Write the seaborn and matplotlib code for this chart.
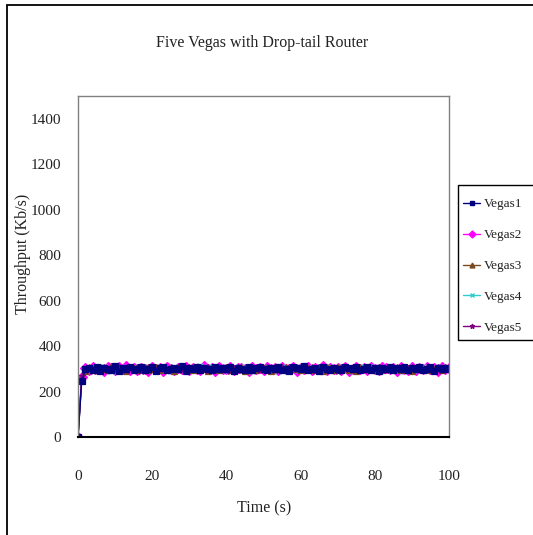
import matplotlib
matplotlib.use("Agg")
import matplotlib.pyplot as plt
from matplotlib.patches import Rectangle
import numpy as np
import pandas as pd
import seaborn as sns

# Throughput samples (Kb/s), one per second from t = 0 to t = 100
time_s = list(range(0, 101))

vegas1 = [0, 245, 298, 305, 296, 310, 292, 303, 300, 296,
          312, 290, 304, 299, 307, 293, 301, 310, 295, 298,
          306, 291, 303, 309, 294, 300, 305, 297, 311, 292,
          302, 298, 307, 295, 304, 300, 293, 309, 297, 303,
          299, 306, 291, 305, 300, 296, 310, 294, 302, 307,
          298, 293, 305, 301, 309, 296, 300, 292, 306, 303,
          297, 311, 295, 299, 304, 290, 308, 301, 296, 305,
          299, 293, 310, 302, 297, 306, 294, 300, 308, 296,
          303, 291, 305, 299, 309, 295, 302, 297, 306, 293,
          304, 300, 310, 296, 301, 307, 292, 303, 298, 305,
          300]
vegas2 = [0, 262, 304, 294, 308, 297, 301, 291, 309, 303,
          295, 306, 299, 311, 293, 302, 296, 305, 300, 292,
          307, 298, 304, 290, 310, 301, 295, 303, 297, 308,
          294, 305, 300, 296, 311, 299, 303, 292, 306, 301,
          297, 309, 293, 302, 305, 298, 291, 307, 300, 304,
          296, 310, 299, 303, 294, 306, 301, 297, 309, 292,
          304, 300, 307, 295, 302, 298, 311, 293, 305, 299,
          303, 296, 308, 291, 301, 306, 297, 304, 294, 310,
          300, 295, 307, 302, 298, 305, 292, 309, 301, 296,
          306, 293, 303, 299, 310, 297, 304, 291, 308, 300,
          302]
vegas3 = [0, 255, 292, 309, 301, 295, 306, 299, 293, 311,
          300, 297, 305, 291, 308, 303, 296, 302, 309, 294,
          299, 306, 293, 304, 297, 310, 292, 301, 305, 298,
          310, 293, 302, 306, 298, 291, 307, 300, 295, 304,
          308, 294, 301, 297, 306, 292, 303, 310, 296, 299,
          305, 300, 291, 308, 297, 302, 310, 294, 299, 306,
          293, 301, 304, 309, 296, 300, 292, 307, 303, 295,
          310, 298, 302, 295, 305, 291, 309, 297, 301, 304,
          296, 308, 293, 301, 305, 299, 310, 294, 303, 298,
          292, 306, 301, 304, 295, 309, 298, 302, 296, 307,
          299]
vegas4 = [0, 248, 301, 296, 304, 293, 309, 306, 297, 290,
          305, 301, 293, 308, 298, 310, 304, 294, 302, 307,
          296, 303, 309, 298, 301, 292, 306, 304, 294, 300,
          305, 297, 295, 311, 301, 307, 296, 304, 299, 293,
          306, 300, 309, 295, 303, 307, 298, 292, 305, 301,
          309, 296, 304, 298, 292, 306, 300, 303, 295, 310,
          299, 294, 302, 297, 307, 303, 296, 305, 310, 298,
          295, 306, 299, 304, 292, 300, 308, 303, 297, 301,
          307, 302, 296, 310, 294, 303, 298, 305, 291, 308,
          299, 304, 295, 307, 302, 293, 306, 300, 309, 297,
          303]
vegas5 = [0, 270, 296, 302, 291, 306, 298, 309, 295, 304,
          293, 309, 301, 296, 303, 299, 307, 292, 305, 310,
          302, 295, 298, 307, 293, 305, 300, 309, 296, 303,
          297, 309, 304, 299, 293, 306, 301, 297, 310, 296,
          302, 291, 305, 308, 294, 303, 299, 306, 297, 295,
          301, 307, 297, 293, 305, 310, 296, 308, 302, 299,
          309, 305, 298, 303, 292, 307, 300, 296, 301, 304,
          291, 309, 305, 297, 303, 298, 296, 307, 300, 293,
          299, 306, 302, 294, 303, 308, 297, 300, 296, 304,
          310, 297, 305, 294, 303, 301, 296, 309, 293, 302,
          306]

series_names = ["Vegas1", "Vegas2", "Vegas3", "Vegas4", "Vegas5"]
series_values = [vegas1, vegas2, vegas3, vegas4, vegas5]

x_ticks = [0, 20, 40, 60, 80, 100]
y_ticks = [0, 200, 400, 600, 800, 1000, 1200, 1400]

colors = {"Vegas1": "#000080", "Vegas2": "#FF00FF", "Vegas3": "#7A4A1E",
          "Vegas4": "#33CCCC", "Vegas5": "#800080"}
markers = {"Vegas1": "s", "Vegas2": "D", "Vegas3": "^",
           "Vegas4": "x", "Vegas5": "*"}
# stacking order of the overlapping traces (darker flows on top)
layer = {"Vegas1": 2.4, "Vegas2": 2.0, "Vegas3": 2.2, "Vegas4": 2.1,
         "Vegas5": 2.3}

sns.set_theme(style="white")
plt.rcParams["font.family"] = ["Liberation Serif", "DejaVu Serif"]
TXT = "#222222"

W, H = 533, 535
fig = plt.figure(figsize=(W / 100, H / 100), dpi=100)
ax = fig.add_axes([78 / W, 1 - 437 / H, (449 - 78) / W, (437 - 96) / H])

for name, vals in zip(series_names, series_values):
    d = pd.DataFrame({"Time (s)": time_s, "Throughput": vals})
    sns.lineplot(data=d, x="Time (s)", y="Throughput", color=colors[name],
                 marker=markers[name], markersize=4.8, markeredgewidth=0.9,
                 markeredgecolor=colors[name], linewidth=1.0, ax=ax,
                 label=name, legend=False, zorder=layer[name])

ax.set_xlim(0, 100)
ax.set_ylim(0, 1500)
ax.set_xticks(x_ticks)
ax.set_yticks(y_ticks)
ax.set_xticklabels([str(v) for v in x_ticks], fontsize=11, color=TXT)
ax.set_yticklabels([str(v) for v in y_ticks], fontsize=11, color=TXT)
ax.tick_params(axis="both", direction="in", length=5, width=0.8,
               colors="black", labelcolor=TXT)
ax.tick_params(axis="y", pad=12)
ax.tick_params(axis="x", pad=24)
ax.set_xlabel("")
ax.set_ylabel("")
ax.set_facecolor("white")
for side in ["top", "right", "left"]:
    ax.spines[side].set_color("#808080")
    ax.spines[side].set_linewidth(1.0)
ax.spines["bottom"].set_color("black")
ax.spines["bottom"].set_linewidth(1.5)

fig.text(262 / W, 1 - 43 / H, "Five Vegas with Drop-tail Router",
         ha="center", va="center", fontsize=11.5, color=TXT)
fig.text(264 / W, 1 - 508 / H, "Time (s)", ha="center", va="center",
         fontsize=11.5, color=TXT)
fig.text(23 / W, 1 - 254 / H, "Throughput (Kb/s)", ha="center", va="center",
         rotation=90, fontsize=11.5, color=TXT)

handles = [plt.Line2D([], [], color=colors[n], marker=markers[n],
                      markersize=3.5, linewidth=1.0) for n in series_names]
leg = fig.legend(handles, series_names, loc="upper left",
                 bbox_to_anchor=(457 / W, 1 - 192 / H), frameon=False,
                 fontsize=9.5, handlelength=1.3, handletextpad=0.25,
                 labelspacing=1.42, borderpad=0.45, borderaxespad=0)
for t in leg.get_texts():
    t.set_color(TXT)

# legend box, running off the right edge of the chart area
fig.patches.append(Rectangle((458 / W, 1 - 340 / H), 0.2, 155 / H,
                             transform=fig.transFigure, fill=False,
                             edgecolor="black", linewidth=1.0))

# outer chart border
fig.patches.append(Rectangle((7 / W, -0.05), 1.2, 1 - 5 / H + 0.05,
                             transform=fig.transFigure, fill=False,
                             edgecolor="black", linewidth=1.3))

fig.savefig("out.png", dpi=100, facecolor="white")
